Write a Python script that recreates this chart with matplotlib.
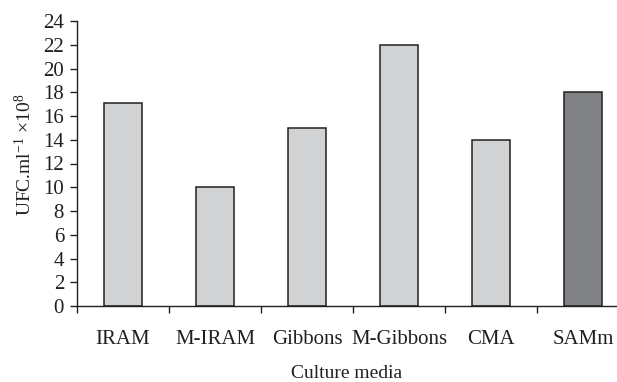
import matplotlib
matplotlib.use("Agg")
import matplotlib.pyplot as plt
import numpy as np

categories = ["IRAM", "M-IRAM", "Gibbons", "M-Gibbons", "CMA", "SAMm"]
values = [17.1, 10.0, 15.0, 22.0, 14.0, 18.0]
bar_colors = ["#d1d2d4", "#d1d2d4", "#d1d2d4", "#d1d2d4", "#d1d2d4", "#808285"]
yticks = list(range(0, 25, 2))

plt.rcParams["font.family"] = ["Liberation Serif", "DejaVu Serif"]
plt.rcParams["mathtext.fontset"] = "custom"
plt.rcParams["mathtext.rm"] = "Liberation Serif"
plt.rcParams["mathtext.it"] = "Liberation Serif:italic"

ink = "#231f20"
fig = plt.figure(figsize=(6.17, 3.82), dpi=100)
ax = fig.add_axes([77/617, 1 - 306/382, 1 - 77/617, (306 - 21)/382])

x = np.arange(len(categories))
ax.bar(x, values, width=0.42, color=bar_colors, edgecolor=ink, linewidth=1.1)

ax.set_ylim(0, 24)
ax.set_xlim(-0.5, 5.37)
ax.set_yticks(yticks)
ax.set_yticklabels([str(t) for t in yticks])
ax.set_xticks(x)
ax.set_xticklabels(categories)
ax.set_xticks(np.arange(-0.5, 5.0, 1.0), minor=True)

ax.tick_params(axis="x", which="major", length=0, pad=17.5, labelsize=15, colors=ink)
ax.tick_params(axis="x", which="minor", length=5, width=1.0, direction="out", color=ink)
ax.tick_params(axis="y", length=5, width=1.0, direction="out", pad=4.3, labelsize=15, colors=ink)

for s in ["top", "right"]:
    ax.spines[s].set_visible(False)
for s in ["left", "bottom"]:
    ax.spines[s].set_color(ink)
    ax.spines[s].set_linewidth(1.0)

ax.set_xlabel("Culture media", fontsize=14, color=ink, labelpad=11)
ax.set_ylabel("UFC.ml$^{-1}$ ×10$^{8}$", fontsize=14, color=ink)
ax.yaxis.set_label_coords(-0.077, 0.53)

fig.savefig("out.png", dpi=100)
